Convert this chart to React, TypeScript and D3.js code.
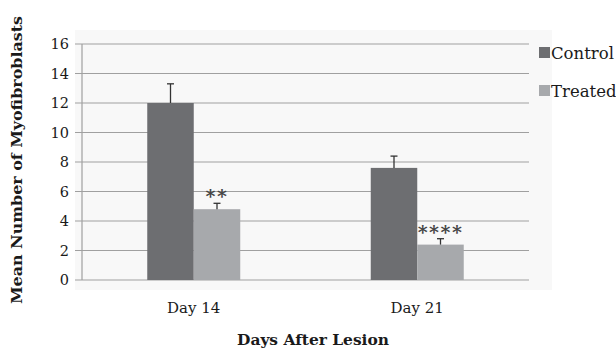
import React from 'react';
import * as d3 from 'd3';

const days = ['Day 14', 'Day 21'];
const groups = ['Control', 'Treated'];
const controlMean = [12, 7.6];
const controlErr = [1.3, 0.8];
const treatedMean = [4.8, 2.4];
const treatedErr = [0.4, 0.4];
const marks = ['**', '****'];
const yTicks = [0, 2, 4, 6, 8, 10, 12, 14, 16];

const colors = ['#6d6e71', '#a7a9ac'];
const font = '"DejaVu Serif", serif';

export default function App() {
    const width = 616;
    const height = 349;
    const left = 82;
    const right = 529;
    const top = 44;
    const bottom = 280;

    const x = d3.scaleBand().domain(days).range([left, right]);
    const xGroup = d3.scaleBand().domain(groups).range([0, 93]);
    const y = d3.scaleLinear().domain([0, 16]).range([bottom, top]);

    const series = [
        {name: groups[0], mean: controlMean, err: controlErr},
        {name: groups[1], mean: treatedMean, err: treatedErr},
    ];

    return (
        <svg width={width} height={height} style={{position: 'absolute', left: 0, top: 0}}>
            <rect x={0} y={0} width={width} height={height} fill="#ffffff"/>
            <rect x={75} y={30} width={477} height={260} fill="#f8f8f8"/>
            {yTicks.map(t => (
                <g key={t}>
                    <line x1={75} x2={right} y1={y(t)} y2={y(t)} stroke="#a0a0a0" strokeWidth={1.2}/>
                    <text x={69} y={y(t)} dy="0.36em" textAnchor="end" fontFamily={font} fontSize={14.5} fill="#1a1a1a">{t}</text>
                </g>
            ))}
            <line x1={left} x2={left} y1={top} y2={bottom} stroke="#a0a0a0" strokeWidth={1.2}/>
            {series.map((s, si) => days.map((d, i) => {
                const bx = (x(d) as number) + x.bandwidth() / 2 - 46.5 + (xGroup(s.name) as number);
                const bw = xGroup.bandwidth();
                const cx = bx + bw / 2;
                const yTop = y(s.mean[i] + s.err[i]);
                return (
                    <g key={s.name + d}>
                        <rect x={bx} y={y(s.mean[i])} width={bw} height={bottom - y(s.mean[i])} fill={colors[si]}/>
                        <line x1={cx} x2={cx} y1={y(s.mean[i])} y2={yTop} stroke="#333" strokeWidth={1.3}/>
                        <line x1={cx - 3.5} x2={cx + 3.5} y1={yTop} y2={yTop} stroke="#333" strokeWidth={1.3}/>
                        {si === 1 && (
                            <text x={cx} y={yTop} textAnchor="middle" fontFamily={font} fontSize={19}
                                  fontWeight="bold" letterSpacing={1.5} fill="#444">{marks[i]}</text>
                        )}
                    </g>
                );
            }))}
            {days.map(d => (
                <text key={d} x={(x(d) as number) + x.bandwidth() / 2} y={313} textAnchor="middle"
                      fontFamily={font} fontSize={15} fill="#1a1a1a">{d}</text>
            ))}
            <text x={313} y={345} textAnchor="middle" fontFamily={font} fontSize={15} fontWeight="bold"
                  textLength={152} lengthAdjust="spacingAndGlyphs" fill="#1a1a1a">Days After Lesion</text>
            <text transform="translate(22,160) rotate(-90)" textAnchor="middle" fontFamily={font} fontSize={15}
                  fontWeight="bold" textLength={288} lengthAdjust="spacingAndGlyphs"
                  fill="#1a1a1a">Mean Number of Myofibroblasts</text>
            {groups.map((g, i) => (
                <g key={g}>
                    <rect x={539} y={47 + i * 38} width={11} height={11} fill={colors[i]}/>
                    <text x={551} y={58.5 + i * 38} fontFamily={font} fontSize={16.5} fill="#1a1a1a">{g}</text>
                </g>
            ))}
        </svg>
    );
}
